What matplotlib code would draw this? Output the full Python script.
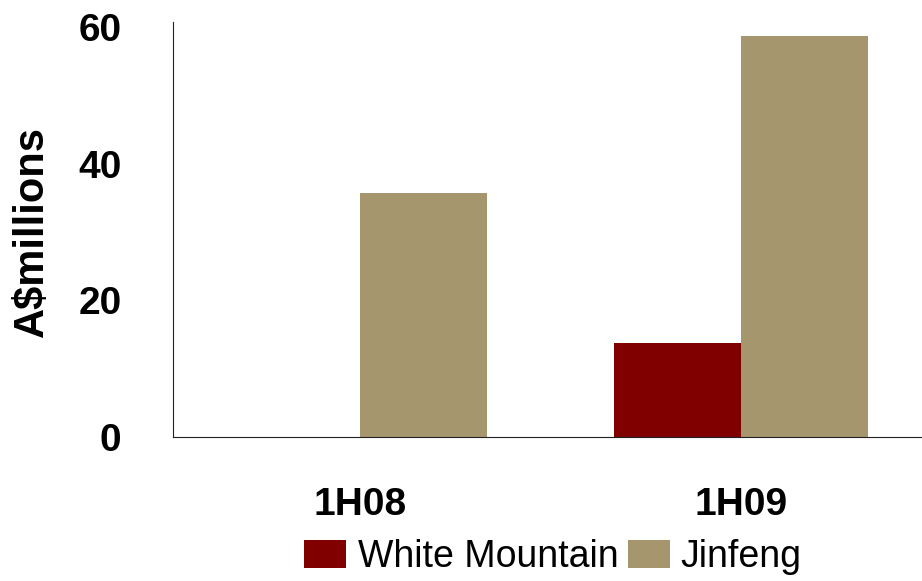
import matplotlib
matplotlib.use("Agg")
import matplotlib.pyplot as plt
import numpy as np

categories = ["1H08", "1H09"]
series_names = ["White Mountain", "Jinfeng"]
white_mountain = [0, 13.8]
jinfeng = [35.7, 58.7]
colors = ["#800000", "#A6966D"]
yticks = [0, 20, 40, 60]

plt.rcParams['font.family'] = ['Liberation Sans', 'DejaVu Sans']

fig = plt.figure(figsize=(9.22, 5.81), dpi=100)
ax = fig.add_axes([173/922, 1 - 437/581, 1 - 173/922, (437 - 22)/581])

x = np.arange(len(categories))
w = 1/3
b1 = ax.bar(x - w/2, white_mountain, width=w, color=colors[0], label=series_names[0])
b2 = ax.bar(x + w/2, jinfeng, width=w, color=colors[1], label=series_names[1])

ax.set_xlim(-0.49, 1.475)
ax.set_ylim(0, 60.8)
ax.set_yticks(yticks)
ax.set_yticklabels([str(t) for t in yticks], fontsize=28, fontweight='bold')
ax.set_xticks(x)
ax.set_xticklabels(categories, fontsize=28, fontweight='bold')
ax.tick_params(axis='both', length=0)
ax.tick_params(axis='y', pad=37)
ax.tick_params(axis='x', pad=36)
ax.spines['top'].set_visible(False)
ax.spines['right'].set_visible(False)
ax.spines['left'].set_color('#222222')
ax.spines['bottom'].set_color('#222222')
ax.set_ylabel("A$millions", fontsize=30, fontweight='bold')
ax.yaxis.set_label_coords(-0.162, 0.494)

leg = fig.legend(handles=[b1, b2], labels=series_names, loc='center',
                 bbox_to_anchor=(553/922, 1 - 557/581), ncol=2, frameon=False,
                 fontsize=27, handlelength=1.12, handleheight=0.75,
                 handletextpad=0.3, columnspacing=0.25, borderpad=0.0)

fig.savefig("out.png", dpi=100)
